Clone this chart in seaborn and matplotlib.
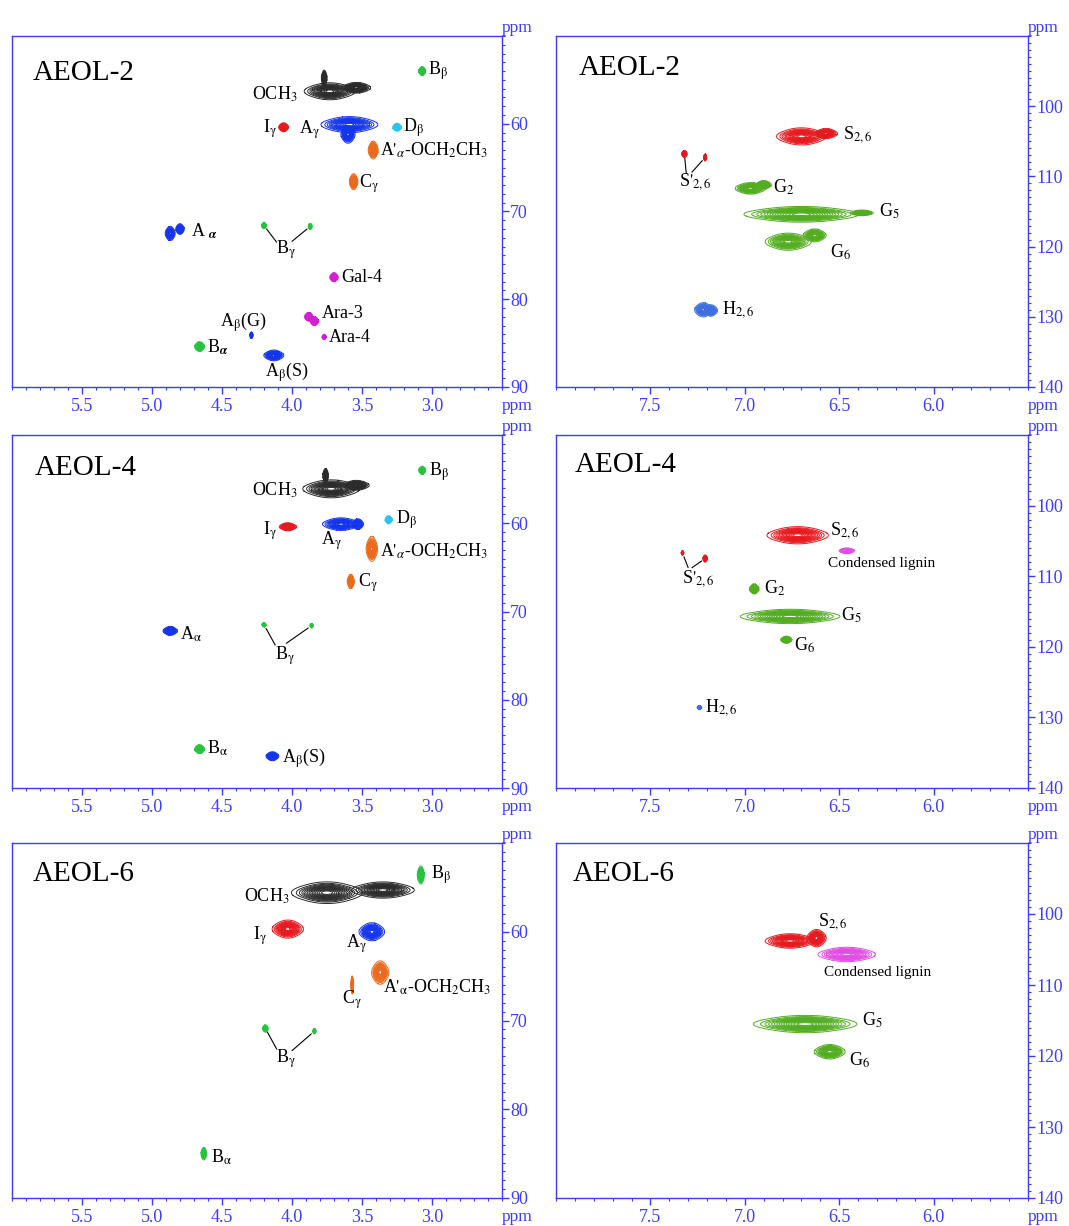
import matplotlib
matplotlib.use("Agg")
import matplotlib.pyplot as plt
import seaborn as sns
from matplotlib.ticker import FixedLocator, MultipleLocator, FormatStrFormatter

# ==============================================================================
# PEAK DATA
# centre in ppm (x = 1H, y = 13C), half extent of the cross peak in ppm, colour key
# ==============================================================================
COLORS = {"K": "#2b2b2b", "B": "#1434ee", "R": "#e6191e", "O": "#ea6a1e",
          "C": "#28c4f4", "G": "#26c43e", "M": "#d21fd2", "L": "#52ad20",
          "H": "#3e6ee0", "P": "#e24ee2"}

# --- AEOL-2, side chain region ---
a2s_x  = [3.07, 3.73, 3.54, 3.77, 4.06, 3.59, 3.60, 3.25, 3.42, 3.56, 4.87, 4.80,
          4.20, 3.87, 3.70, 3.88, 3.84, 3.77, 4.29, 4.66, 4.13]
a2s_y  = [54.0, 56.3, 55.9, 54.8, 60.4, 60.1, 61.2, 60.4, 63.0, 66.6, 72.5, 72.0,
          71.6, 71.7, 77.5, 82.0, 82.5, 84.3, 84.1, 85.4, 86.4]
a2s_hx = [.025, .18, .10, .02, .035, .20, .05, .03, .035, .03, .035, .03,
          .018, .014, .03, .03, .03, .015, .012, .035, .07]
a2s_hy = [.5, .95, .6, .9, .5, .9, 1.0, .45, 1.0, .9, .8, .6,
          .35, .35, .5, .5, .5, .3, .35, .55, .6]
a2s_c  = ["G", "K", "K", "K", "R", "B", "B", "C", "O", "O", "B", "B",
          "G", "G", "M", "M", "M", "M", "B", "G", "B"]
a2s_lab = [r"B$_\mathrm{\beta}$", r"OCH$_\mathrm{3}$", r"I$_\mathrm{\gamma}$", r"A$_\mathrm{\gamma}$",
           r"D$_\mathrm{\beta}$", r"A$'_\alpha$-OCH$_\mathrm{2}$CH$_\mathrm{3}$", r"C$_\mathrm{\gamma}$",
           r"A $_{\boldsymbol{\alpha}}$", r"B$_\mathrm{\gamma}$",
           "Gal-4", "Ara-3", "Ara-4", r"A$_\mathrm{\beta}$(G)", r"B$_{\boldsymbol{\alpha}}$",
           r"A$_\mathrm{\beta}$(S)"]
a2s_lx = [3.03, 3.96, 4.11, 3.80, 3.21, 3.37, 3.52, 4.72, 4.04, 3.65, 3.79, 3.74, 4.35, 4.61, 4.04]
a2s_ly = [54.0, 56.6, 60.6, 60.7, 60.4, 63.0, 66.8, 72.2, 74.4, 77.5, 81.6, 84.4, 82.6, 85.5, 88.3]
a2s_ha = ["l", "r", "r", "r", "l", "l", "l", "l", "c", "l", "l", "l", "c", "l", "c"]
a2s_link = [12, 13]
a2s_link_x = [4.11, 4.00]
a2s_link_y = [73.5, 73.4]

# --- AEOL-2, aromatic region ---
a2a_x  = [6.70, 6.57, 7.32, 7.21, 6.97, 6.90, 6.70, 6.38, 6.77, 6.63, 7.22, 7.18]
a2a_y  = [104.3, 103.9, 106.8, 107.3, 111.7, 111.2, 115.4, 115.2, 119.3, 118.4, 129.0, 129.1]
a2a_hx = [.13, .06, .015, .008, .08, .04, .30, .06, .12, .06, .045, .035]
a2a_hy = [1.2, .7, .5, .5, .8, .6, 1.1, .4, 1.2, .9, 1.0, .8]
a2a_c  = ["R", "R", "R", "R", "L", "L", "L", "L", "L", "L", "H", "H"]
a2a_lab = [r"S$_\mathrm{2,6}$", r"S$'_\mathrm{2,6}$", r"G$_\mathrm{2}$", r"G$_\mathrm{5}$",
           r"G$_\mathrm{6}$", r"H$_\mathrm{2,6}$"]
a2a_lx = [6.48, 7.35, 6.85, 6.29, 6.55, 7.12]
a2a_ly = [104.0, 110.8, 111.6, 115.0, 120.8, 129.0]
a2a_ha = ["l", "l", "l", "l", "l", "l"]
a2a_link = [2, 3]
a2a_link_x = [7.31, 7.28]
a2a_link_y = [109.6, 109.4]

# --- AEOL-4, side chain region ---
a4s_x  = [3.07, 3.72, 3.54, 3.76, 4.03, 3.65, 3.53, 3.31, 3.43, 3.58, 4.87, 4.20, 3.86, 4.66, 4.14]
a4s_y  = [54.0, 56.1, 55.7, 54.6, 60.4, 60.1, 60.1, 59.6, 62.9, 66.6, 72.2, 71.5, 71.6, 85.6, 86.4]
a4s_hx = [.025, .20, .09, .02, .06, .13, .04, .025, .04, .025, .05, .015, .012, .035, .045]
a4s_hy = [.45, 1.0, .55, .8, .45, .7, .6, .45, 1.4, .8, .5, .25, .25, .5, .5]
a4s_c  = ["G", "K", "K", "K", "R", "B", "B", "C", "O", "O", "B", "G", "G", "G", "B"]
a4s_lab = [r"B$_\mathrm{\beta}$", r"OCH$_\mathrm{3}$", r"I$_\mathrm{\gamma}$", r"A$_\mathrm{\gamma}$",
           r"D$_\mathrm{\beta}$", r"A$'_\alpha$-OCH$_\mathrm{2}$CH$_\mathrm{3}$", r"C$_\mathrm{\gamma}$",
           r"A$_\mathrm{\alpha}$", r"B$_\mathrm{\gamma}$", r"B$_\mathrm{\alpha}$", r"A$_\mathrm{\beta}$(S)"]
a4s_lx = [3.02, 3.96, 4.11, 3.72, 3.26, 3.37, 3.53, 4.80, 4.05, 4.61, 4.07]
a4s_ly = [54.2, 56.3, 60.9, 62.0, 59.6, 63.2, 66.7, 72.6, 75.0, 85.5, 86.6]
a4s_ha = ["l", "r", "r", "c", "l", "l", "l", "l", "c", "l", "l"]
a4s_link = [11, 12]
a4s_link_x = [4.12, 4.04]
a4s_link_y = [73.8, 73.6]

# --- AEOL-4, aromatic region ---
a4a_x  = [6.72, 6.46, 7.33, 7.21, 6.95, 6.76, 6.78, 7.24]
a4a_y  = [104.2, 106.4, 106.7, 107.5, 111.8, 115.7, 119.0, 128.6]
a4a_hx = [.16, .04, .007, .012, .025, .26, .03, .012]
a4a_hy = [1.2, .4, .3, .5, .7, 1.0, .5, .3]
a4a_c  = ["R", "P", "R", "R", "L", "L", "L", "H"]
a4a_lab = [r"S$_\mathrm{2,6}$", "Condensed lignin", r"S$'_\mathrm{2,6}$", r"G$_\mathrm{2}$",
           r"G$_\mathrm{5}$", r"G$_\mathrm{6}$", r"H$_\mathrm{2,6}$"]
a4a_lx = [6.55, 6.56, 7.33, 6.90, 6.49, 6.74, 7.21]
a4a_ly = [103.6, 108.2, 110.3, 111.7, 115.6, 119.8, 128.6]
a4a_ha = ["l", "l", "l", "l", "l", "l", "l"]
a4a_link = [2, 3]
a4a_link_x = [7.30, 7.28]
a4a_link_y = [108.8, 108.8]

# --- AEOL-6, side chain region ---
a6s_x  = [3.08, 3.75, 3.35, 4.03, 3.43, 3.37, 3.57, 4.19, 3.84, 4.63]
a6s_y  = [53.6, 55.6, 55.3, 59.7, 60.0, 64.6, 66.0, 70.9, 71.2, 85.0]
a6s_hx = [.025, .25, .22, .11, .09, .06, .01, .02, .012, .02]
a6s_hy = [1.0, 1.2, .9, 1.0, 1.0, 1.3, 1.0, .4, .3, .7]
a6s_c  = ["G", "K", "K", "R", "B", "O", "O", "G", "G", "G"]
a6s_lab = [r"B$_\mathrm{\beta}$", r"OCH$_\mathrm{3}$", r"I$_\mathrm{\gamma}$", r"A$_\mathrm{\gamma}$",
           r"A$'_\mathrm{\alpha}$-OCH$_\mathrm{2}$CH$_\mathrm{3}$", r"C$_\mathrm{\gamma}$",
           r"B$_\mathrm{\gamma}$", r"B$_\mathrm{\alpha}$"]
a6s_lx = [3.01, 4.02, 4.18, 3.54, 3.35, 3.57, 4.04, 4.58]
a6s_ly = [53.6, 56.0, 60.4, 61.4, 66.3, 67.7, 74.3, 85.4]
a6s_ha = ["l", "r", "r", "c", "l", "c", "c", "l"]
a6s_link = [7, 8]
a6s_link_x = [4.11, 4.00]
a6s_link_y = [73.2, 73.4]

# --- AEOL-6, aromatic region ---
a6a_x  = [6.76, 6.62, 6.46, 6.68, 6.55]
a6a_y  = [103.8, 103.4, 105.7, 115.5, 119.4]
a6a_hx = [.13, .05, .15, .27, .08]
a6a_hy = [1.0, 1.2, 1.0, 1.2, 1.0]
a6a_c  = ["R", "R", "P", "L", "L"]
a6a_lab = [r"S$_\mathrm{2,6}$", "Condensed lignin", r"G$_\mathrm{5}$", r"G$_\mathrm{6}$"]
a6a_lx = [6.61, 6.58, 6.38, 6.45]
a6a_ly = [101.0, 108.3, 115.0, 120.6]
a6a_ha = ["l", "l", "l", "l"]
a6a_link = []
a6a_link_x = []
a6a_link_y = []

samples = ["AEOL-2", "AEOL-4", "AEOL-6"]

# ==============================================================================
# STYLE
# ==============================================================================
sns.set_style("white")
plt.rcParams["font.family"] = ["Liberation Serif", "DejaVu Serif"]
plt.rcParams["mathtext.fontset"] = "stix"
BLUE = "#3c3cff"
SPREAD = 2.5       # puts the outer contour at the half extent
HA = {"l": "left", "r": "right", "c": "center"}


def draw_peak(ax, x, y, hx, hy, color):
    # five support points -> elliptical kde blob drawn as stacked contours
    dx, dy = hx / SPREAD, hy / SPREAD
    xs = [x, x - dx, x + dx, x, x]
    ys = [y, y, y, y - dy, y + dy]
    sns.kdeplot(x=xs, y=ys, ax=ax, levels=16, thresh=0.05, bw_adjust=1.5,
                color=color, linewidths=0.7)


def draw_panel(ax, px, py, hx, hy, cols, lab, lx, ly, ha, link, link_x, link_y,
               xlim, ylim, xmajor, ymajor, title, title_xy):
    for i in range(len(px)):
        draw_peak(ax, px[i], py[i], hx[i], hy[i], COLORS[cols[i]])
    for t, x, y, h in zip(lab, lx, ly, ha):
        fs = 11 if t.startswith("Condensed") else 13
        ax.text(x, y, t, ha=HA[h], va="center", fontsize=fs, color="black")
    for i, x, y in zip(link, link_x, link_y):
        ax.annotate("", xy=(px[i], py[i]), xytext=(x, y),
                    arrowprops=dict(arrowstyle="-", color="black", lw=0.8,
                                    shrinkA=0, shrinkB=3))
    ax.text(title_xy[0], title_xy[1], title, ha="left", va="center", fontsize=21,
            color="black")

    ax.set_xlim(*xlim)
    ax.set_ylim(*ylim)
    ax.set_xlabel("")
    ax.set_ylabel("")
    ax.xaxis.set_major_locator(FixedLocator(xmajor))
    ax.xaxis.set_major_formatter(FormatStrFormatter("%.1f"))
    ax.xaxis.set_minor_locator(MultipleLocator(0.1))
    ax.yaxis.set_major_locator(FixedLocator(ymajor))
    ax.yaxis.set_minor_locator(MultipleLocator(1))
    ax.yaxis.tick_right()
    ax.xaxis.tick_bottom()
    ax.tick_params(which="major", length=5, width=1, color=BLUE, labelcolor=BLUE,
                   labelsize=13, direction="out")
    ax.tick_params(which="minor", length=2.5, width=0.8, color=BLUE, direction="out")
    ax.tick_params(axis="y", pad=1)
    ax.tick_params(axis="x", pad=3)
    for s in ax.spines.values():
        s.set_visible(True)
        s.set_color(BLUE)
        s.set_linewidth(1.0)
    ax.text(1.0, 1.0, "ppm", transform=ax.transAxes, ha="left", va="bottom",
            color=BLUE, fontsize=12.5)
    ax.annotate("ppm", xy=(1, 0), xycoords="axes fraction", xytext=(0, -8),
                textcoords="offset points", ha="left", va="top", color=BLUE,
                fontsize=12.5)


# ==============================================================================
# FIGURE
# ==============================================================================
W, H = 1069, 1226
fig = plt.figure(figsize=(W / 100, H / 100), dpi=100)
rows = [(36, 387), (435, 788), (843, 1198)]
left_x, left_w = 12, 490
right_x, right_w = 556, 472

side = [(a2s_x, a2s_y, a2s_hx, a2s_hy, a2s_c, a2s_lab, a2s_lx, a2s_ly, a2s_ha, a2s_link, a2s_link_x, a2s_link_y),
        (a4s_x, a4s_y, a4s_hx, a4s_hy, a4s_c, a4s_lab, a4s_lx, a4s_ly, a4s_ha, a4s_link, a4s_link_x, a4s_link_y),
        (a6s_x, a6s_y, a6s_hx, a6s_hy, a6s_c, a6s_lab, a6s_lx, a6s_ly, a6s_ha, a6s_link, a6s_link_x, a6s_link_y)]
arom = [(a2a_x, a2a_y, a2a_hx, a2a_hy, a2a_c, a2a_lab, a2a_lx, a2a_ly, a2a_ha, a2a_link, a2a_link_x, a2a_link_y),
        (a4a_x, a4a_y, a4a_hx, a4a_hy, a4a_c, a4a_lab, a4a_lx, a4a_ly, a4a_ha, a4a_link, a4a_link_x, a4a_link_y),
        (a6a_x, a6a_y, a6a_hx, a6a_hy, a6a_c, a6a_lab, a6a_lx, a6a_ly, a6a_ha, a6a_link, a6a_link_x, a6a_link_y)]
side_titles = [(5.85, 54.2), (5.84, 53.7), (5.85, 53.5)]
arom_titles = [(7.88, 94.5), (7.90, 94.3), (7.91, 94.3)]

for r, (top, bot) in enumerate(rows):
    b = 1 - bot / H
    h = (bot - top) / H
    axl = fig.add_axes([left_x / W, b, left_w / W, h])
    draw_panel(axl, *side[r], xlim=(6.0, 2.5), ylim=(90, 50),
               xmajor=[5.5, 5.0, 4.5, 4.0, 3.5, 3.0], ymajor=[60, 70, 80, 90],
               title=samples[r], title_xy=side_titles[r])
    axr = fig.add_axes([right_x / W, b, right_w / W, h])
    draw_panel(axr, *arom[r], xlim=(8.0, 5.5), ylim=(140, 90),
               xmajor=[7.5, 7.0, 6.5, 6.0], ymajor=[100, 110, 120, 130, 140],
               title=samples[r], title_xy=arom_titles[r])

fig.savefig("out.png", dpi=100)
